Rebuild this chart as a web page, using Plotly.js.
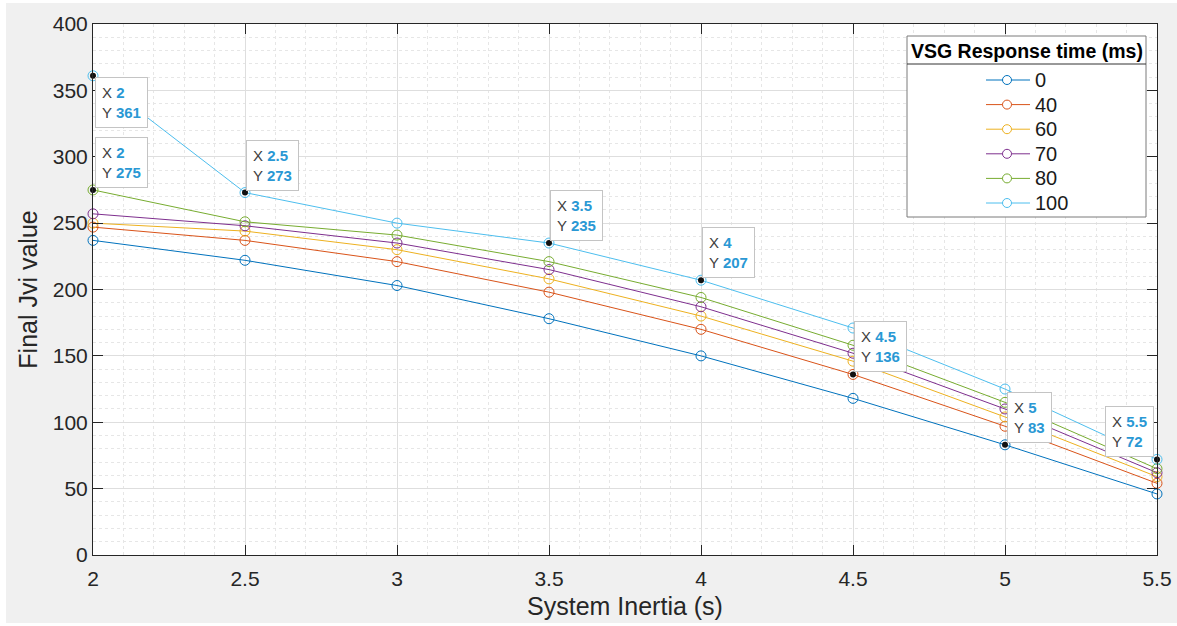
<!DOCTYPE html>
<html>
<head>
<meta charset="utf-8">
<script src="https://cdn.plot.ly/plotly-3.0.1.min.js"></script>
<style>
  html, body { margin: 0; padding: 0; background: #ffffff; }
  #chart { width: 1177px; height: 626px; }
</style>
</head>
<body>
<div id="chart"></div>
<script>
// System inertia values (s) on the x axis
const inertia = [2, 2.5, 3, 3.5, 4, 4.5, 5, 5.5];

// VSG response times (ms), one curve each
const responseTimes = ['0', '40', '60', '70', '80', '100'];

// Final Jvi value for each response time
const jvi_0   = [237, 222, 203, 178, 150, 118, 83, 46];
const jvi_40  = [247, 237, 221, 198, 170, 136, 97, 54];
const jvi_60  = [250, 244, 230, 208, 180, 146, 104, 59];
const jvi_70  = [257, 248, 235, 215, 187, 152, 110, 62];
const jvi_80  = [275, 251, 241, 221, 194, 158, 115, 65];
const jvi_100 = [361, 273, 250, 235, 207, 171, 125, 72];

// Data tips: which curve and which inertia value each one marks
const tipSeries  = ['100', '80', '100', '100', '100', '40', '0', '100'];
const tipInertia = [2, 2, 2.5, 3.5, 4, 4.5, 5, 5.5];

// Axis tick values
const xTicks = [2, 2.5, 3, 3.5, 4, 4.5, 5, 5.5];
const yTicks = [0, 50, 100, 150, 200, 250, 300, 350, 400];

const legendTitle = 'VSG Response time (ms)';

const seriesByName = {
  '0': jvi_0, '40': jvi_40, '60': jvi_60,
  '70': jvi_70, '80': jvi_80, '100': jvi_100
};

const colors = ['#0072BD', '#D95319', '#EDB120', '#7E2F8E', '#77AC30', '#4DBEEE'];

// Figure geometry (px)
const W = 1177, H = 626;
const M = { l: 93, r: 20, t: 24, b: 71 };
const plotW = W - M.l - M.r, plotH = H - M.t - M.b;
const px2paper = px => (px - M.l) / plotW;
const py2paper = py => (H - M.b - py) / plotH;

const traces = responseTimes.map((name, i) => ({
  type: 'scatter',
  mode: 'lines+markers',
  name: name,
  x: inertia,
  y: seriesByName[name],
  showlegend: false,
  cliponaxis: false,
  line: { color: colors[i], width: 1 },
  marker: { symbol: 'circle-open', size: 10, color: colors[i], line: { width: 1, color: colors[i] } }
}));

// Data tip points, taken from the curves themselves
const tipY = tipSeries.map((s, k) => seriesByName[s][inertia.indexOf(tipInertia[k])]);
traces.push({
  type: 'scatter',
  mode: 'markers',
  x: tipInertia,
  y: tipY,
  showlegend: false,
  hoverinfo: 'skip',
  cliponaxis: false,
  marker: { symbol: 'circle', size: 6, color: '#111111' }
});

// Placement of each data-tip box relative to its point
const tipPlacement = [
  { xa: 'left',  ya: 'top',    dx: 2,  dy: -1 },
  { xa: 'left',  ya: 'bottom', dx: 2,  dy: 2 },
  { xa: 'left',  ya: 'bottom', dx: 1,  dy: 2 },
  { xa: 'left',  ya: 'bottom', dx: 1,  dy: 2 },
  { xa: 'left',  ya: 'bottom', dx: 1,  dy: 2 },
  { xa: 'left',  ya: 'bottom', dx: 1,  dy: 2 },
  { xa: 'left',  ya: 'bottom', dx: 2,  dy: 2 },
  { xa: 'right', ya: 'bottom', dx: -3, dy: 2 }
];

const fontFamily = 'Liberation Sans, Arial, Helvetica, sans-serif';
const axisColor = '#262626';
const valColor = '#2a98d4';

const annotations = tipInertia.map((xv, k) => ({
  x: xv, y: tipY[k], xref: 'x', yref: 'y',
  showarrow: false,
  xanchor: tipPlacement[k].xa,
  yanchor: tipPlacement[k].ya,
  xshift: tipPlacement[k].dx,
  yshift: tipPlacement[k].dy,
  align: 'left',
  text: 'X <b><span style="color:' + valColor + '">' + xv + '</span></b><br>' +
        'Y <b><span style="color:' + valColor + '">' + tipY[k] + '</span></b>',
  font: { family: fontFamily, size: 15, color: '#404040' },
  bgcolor: '#ffffff',
  bordercolor: '#c4c4c4',
  borderwidth: 1,
  borderpad: 6
}));

const shapes = [
  // figure background panel
  { type: 'rect', xref: 'paper', yref: 'paper', layer: 'below',
    x0: px2paper(6), x1: px2paper(1177), y0: py2paper(623), y1: py2paper(3),
    fillcolor: '#f0f0f0', line: { width: 0 } },
  // axes background
  { type: 'rect', xref: 'paper', yref: 'paper', layer: 'below',
    x0: 0, x1: 1, y0: 0, y1: 1,
    fillcolor: '#ffffff', line: { width: 0 } }
];

// Legend box with a titled header, centred entries
const legBox = { x0: 907, x1: 1146, y0: 36, y1: 217, rule: 64 };
shapes.push(
  { type: 'rect', xref: 'paper', yref: 'paper', layer: 'above',
    x0: px2paper(legBox.x0), x1: px2paper(legBox.x1),
    y0: py2paper(legBox.y1), y1: py2paper(legBox.y0),
    fillcolor: '#ffffff', line: { color: '#7a7a7a', width: 1 } },
  { type: 'line', xref: 'paper', yref: 'paper', layer: 'above',
    x0: px2paper(legBox.x0), x1: px2paper(legBox.x1),
    y0: py2paper(legBox.rule), y1: py2paper(legBox.rule),
    line: { color: '#333333', width: 1 } }
);
annotations.push({
  xref: 'paper', yref: 'paper',
  x: px2paper((legBox.x0 + legBox.x1) / 2), y: py2paper(51),
  xanchor: 'center', yanchor: 'middle', showarrow: false,
  text: '<b>' + legendTitle + '</b>',
  font: { family: fontFamily, size: 19.5, color: '#000000' }
});
const legRow0 = 80, legRowStep = 24.6, legLine = [986, 1030], legMark = 1007, legR = 4.5, legText = 1033;
responseTimes.forEach((name, i) => {
  const yc = legRow0 + i * legRowStep;
  shapes.push(
    { type: 'line', xref: 'paper', yref: 'paper', layer: 'above',
      x0: px2paper(legLine[0]), x1: px2paper(legLine[1]),
      y0: py2paper(yc), y1: py2paper(yc),
      line: { color: colors[i], width: 1 } },
    { type: 'circle', xref: 'paper', yref: 'paper', layer: 'above',
      x0: px2paper(legMark - legR), x1: px2paper(legMark + legR),
      y0: py2paper(yc + legR), y1: py2paper(yc - legR),
      fillcolor: '#ffffff', line: { color: colors[i], width: 1 } }
  );
  annotations.push({
    xref: 'paper', yref: 'paper',
    x: px2paper(legText), y: py2paper(yc),
    xanchor: 'left', yanchor: 'middle', showarrow: false,
    text: name,
    font: { family: fontFamily, size: 20, color: '#1a1a1a' }
  });
});

const layout = {
  width: W,
  height: H,
  margin: M,
  paper_bgcolor: '#ffffff',
  plot_bgcolor: '#ffffff',
  font: { family: fontFamily, color: axisColor },
  showlegend: false,
  xaxis: {
    range: [2, 5.5],
    tickvals: xTicks,
    ticktext: xTicks.map(String),
    ticks: 'inside', ticklen: 10, tickcolor: axisColor, tickwidth: 1,
    ticklabelstandoff: 5,
    showline: true, linecolor: axisColor, linewidth: 1, mirror: 'ticks',
    showgrid: true, gridcolor: '#dedede', gridwidth: 1,
    zeroline: false,
    minor: { dtick: 0.1, tick0: 2, showgrid: true, gridcolor: '#e6e6e6', griddash: 'dot', ticks: '' },
    tickfont: { family: fontFamily, size: 21, color: axisColor },
    title: { text: 'System Inertia (s)', font: { family: fontFamily, size: 25, color: axisColor }, standoff: 8 },
    fixedrange: true
  },
  yaxis: {
    range: [0, 400],
    tickvals: yTicks,
    ticktext: yTicks.map(String),
    ticks: 'inside', ticklen: 10, tickcolor: axisColor, tickwidth: 1,
    showline: true, linecolor: axisColor, linewidth: 1, mirror: 'ticks',
    showgrid: true, gridcolor: '#dedede', gridwidth: 1,
    zeroline: false,
    minor: { dtick: 10, tick0: 0, showgrid: true, gridcolor: '#e6e6e6', griddash: 'dot', ticks: '' },
    tickfont: { family: fontFamily, size: 21, color: axisColor },
    title: { text: 'Final Jvi value', font: { family: fontFamily, size: 25, color: axisColor }, standoff: 8 },
    fixedrange: true
  },
  shapes: shapes,
  annotations: annotations
};

Plotly.newPlot('chart', traces, layout, { displayModeBar: false, staticPlot: true });
</script>
</body>
</html>
